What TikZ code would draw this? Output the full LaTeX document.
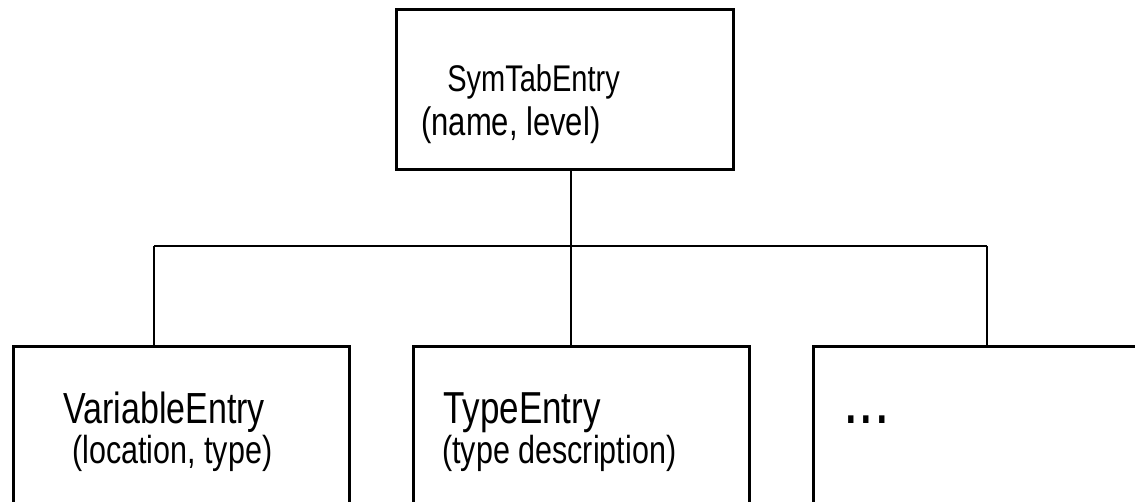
\documentclass[tikz,border=0pt]{standalone}
\usepackage{fontspec}
\setmainfont{Liberation Sans}
\usetikzlibrary{positioning,calc}

% the lettering of this chart is drawn narrow and tall
\newcommand{\tallword}[1]{\scalebox{1}[1.28]{#1}}

\begin{document}
\begin{tikzpicture}[
  x=0.5pt, y=-0.5pt,
  line width=1.3pt,
  entry/.style={draw, rectangle, anchor=north west, inner sep=0pt},
  word/.style={anchor=base west, inner sep=0pt, font=\fontsize{#1}{#1}\selectfont},
  word/.default=15
]
\useasboundingbox (0,0) rectangle (1135,502);
\clip (0,0) rectangle (1135,502);

% base class on top
\node[entry, minimum width=168.5pt, minimum height=80pt] (sym) at (395,8) {};
\node[word=14.5] (symname) at (446,92) {\tallword{SymTabEntry}};
\node[word=15.5] (symnote) at (420,136) {\tallword{(name, level)}};

% derived entries, running off the page
\node[entry, minimum width=168pt, minimum height=100pt] (var) at (12,345) {};
\node[entry, minimum width=168pt, minimum height=100pt] (typ) at (412,345) {};
\node[entry, minimum width=180pt, minimum height=100pt] (more) at (812,345) {};

\node[word=17] (varname) at (62,423) {\tallword{VariableEntry}};
\node[word=15.25] (varnote) at (71,463) {\tallword{(location, type)}};
\node[word=17.5] (typname) at (442,423) {\tallword{TypeEntry}};
\node[word=15.25] (typnote) at (441,463) {\tallword{(type description)}};
\node[word=28] (dots) at (842,423) {\tallword{...}};

% tree connectors
\coordinate (hub) at (571,246);
\coordinate (jvar) at (154,246);
\coordinate (jmore) at (987,246);
\draw (sym.south -| hub) -- (hub);
\draw (jvar) -- (jmore);
\draw (jvar) -- (jvar |- var.north);
\draw (hub) -- (hub |- typ.north);
\draw (jmore) -- (jmore |- more.north);
\end{tikzpicture}
\end{document}
